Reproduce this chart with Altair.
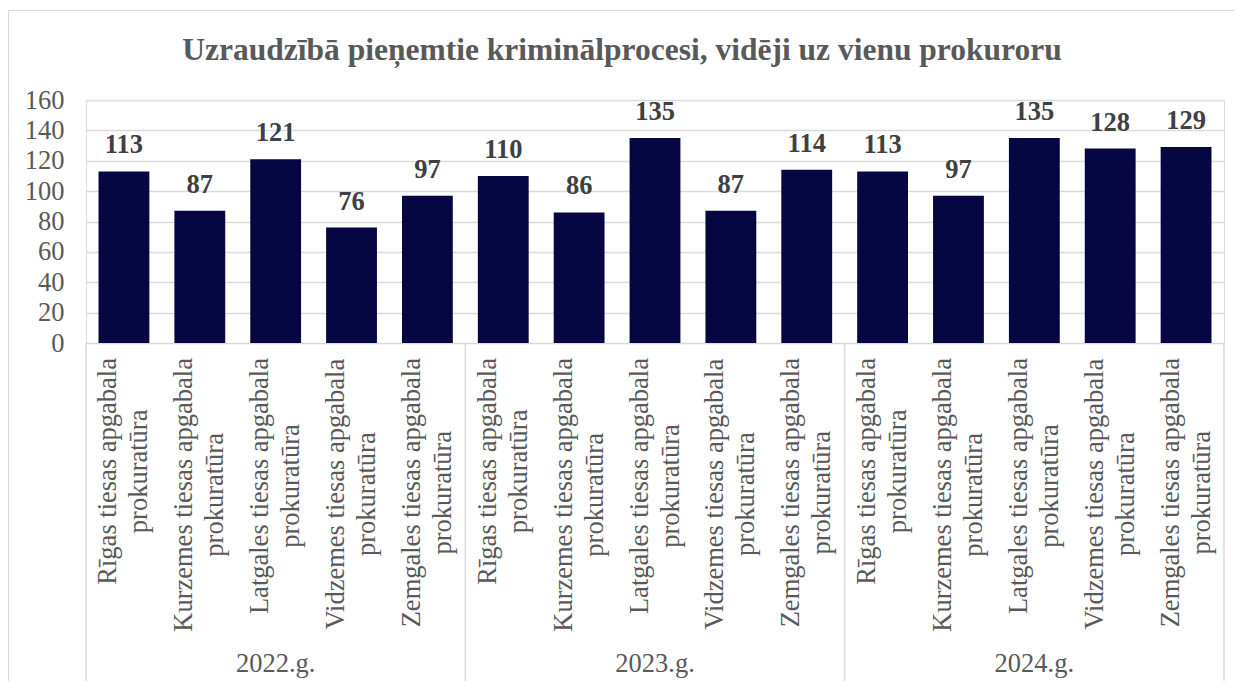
import altair as alt
import pandas as pd

title_text = "Uzraudzībā pieņemtie kriminālprocesi, vidēji uz vienu prokuroru"
years = ["2022.g.", "2023.g.", "2024.g."]
office_line1 = [
    "Rīgas tiesas apgabala",
    "Kurzemes tiesas apgabala",
    "Latgales tiesas apgabala",
    "Vidzemes tiesas apgabala",
    "Zemgales tiesas apgabala",
]
office_line2 = ["prokuratūra"] * 5
values_2022 = [113, 87, 121, 76, 97]
values_2023 = [110, 86, 135, 87, 114]
values_2024 = [113, 97, 135, 128, 129]
y_ticks = [0, 20, 40, 60, 80, 100, 120, 140, 160]

FONT = "'Liberation Serif', 'Times New Roman', serif"
TEXT_GRAY = "#595959"
GRID = "#d9d9d9"
BAR = "#060642"
W, H = 1138, 243
LABEL_FS = 26.5
LINE_H = 31

# Times/Liberation Serif advance widths (per 1000 em) for label centring
_adv = {
    "R": 667, "ī": 278, "g": 500, "a": 444, "s": 389, " ": 250, "t": 278,
    "i": 278, "e": 444, "p": 500, "b": 500, "l": 278, "K": 722, "u": 500,
    "r": 333, "z": 444, "m": 778, "L": 611, "V": 722, "d": 500, "Z": 611,
    "o": 500, "k": 500, "ū": 500, "n": 500,
}


def text_len(s):
    return sum(_adv.get(c, 500) for c in s) / 1000 * LABEL_FS


all_values = [values_2022, values_2023, values_2024]
rows = []
for yi, yr in enumerate(years):
    for oi in range(5):
        l1, l2 = office_line1[oi], office_line2[oi]
        rows.append({
            "key": f"{yr}|{oi}",
            "year": yr,
            "label": l1 + "\n" + l2,
            "anchor": 15 + max(text_len(l1), text_len(l2)) / 2,
            "value": all_values[yi][oi],
        })
df = pd.DataFrame(rows)
keys = list(df["key"])

year_df = pd.DataFrame({"key": [f"{yr}|2" for yr in years], "year": years})
sep_df = pd.DataFrame({"pos": [0, 5, 10, 15]})

xband = alt.X(
    "key:N", sort=keys,
    scale=alt.Scale(domain=keys, paddingInner=0.33, paddingOuter=0.165),
    axis=None,
)
yval_scale = alt.Scale(domain=[0, 160], nice=False, zero=True)

border = alt.Chart(pd.DataFrame({"d": [0]})).mark_rect(
    filled=False, stroke=GRID, strokeWidth=1.2
).encode(
    x=alt.value(-77.5), x2=alt.value(W + 60),
    y=alt.value(-89.5), y2=alt.value(H + 500),
)

title = alt.Chart(pd.DataFrame({"t": [title_text]})).mark_text(
    font=FONT, fontSize=31.5, fontWeight="bold", color=TEXT_GRAY,
    align="center", baseline="alphabetic",
).encode(
    x=alt.value(536), y=alt.value(-40), text="t:N",
)

bars = alt.Chart(df).mark_bar(color=BAR).encode(
    x=xband,
    y=alt.Y(
        "value:Q", scale=yval_scale,
        axis=alt.Axis(
            values=y_ticks, grid=True, gridColor=GRID, gridWidth=1.5,
            domain=False, ticks=False, labelFont=FONT, labelFontSize=LABEL_FS,
            labelColor=TEXT_GRAY, labelPadding=22, title=None,
        ),
    ),
)

data_labels = alt.Chart(df).mark_text(
    font=FONT, fontSize=LABEL_FS, fontWeight="bold", color="#404040",
    baseline="alphabetic", dy=-18,
).encode(
    x=xband,
    y=alt.Y("value:Q", scale=yval_scale, axis=None),
    text=alt.Text("value:Q"),
)

cat_labels = alt.Chart(df).mark_text(
    font=FONT, fontSize=LABEL_FS, color=TEXT_GRAY, angle=270,
    align="center", baseline="middle", lineBreak="\n", lineHeight=LINE_H,
    dy=-LINE_H / 2,
).encode(
    x=xband,
    y=alt.Y("anchor:Q", scale=alt.Scale(domain=[0, 100], range=[H, H + 100], zero=False, nice=False), axis=None),
    text="label:N",
)

year_labels = alt.Chart(year_df).mark_text(
    font=FONT, fontSize=LABEL_FS, color=TEXT_GRAY, baseline="alphabetic",
).encode(
    x=xband,
    y=alt.value(572),
    text="year:N",
)

seps = alt.Chart(sep_df).mark_rule(color=GRID, strokeWidth=1.5).encode(
    x=alt.X("pos:Q", scale=alt.Scale(domain=[0, 15], nice=False, zero=False), axis=None),
    y=alt.value(H),
    y2=alt.value(H + 340),
)

chart = alt.layer(
    border, title, bars, data_labels, cat_labels, year_labels, seps
).resolve_scale(
    x="independent", y="independent"
).properties(
    width=W, height=H,
    autosize=alt.AutoSizeParams(type="none"),
    padding={"left": 78, "top": 92, "right": 10, "bottom": 338},
).configure_view(stroke=None).configure(background="white")

chart.save("out.html", embed_options={"renderer": "svg", "actions": False})
